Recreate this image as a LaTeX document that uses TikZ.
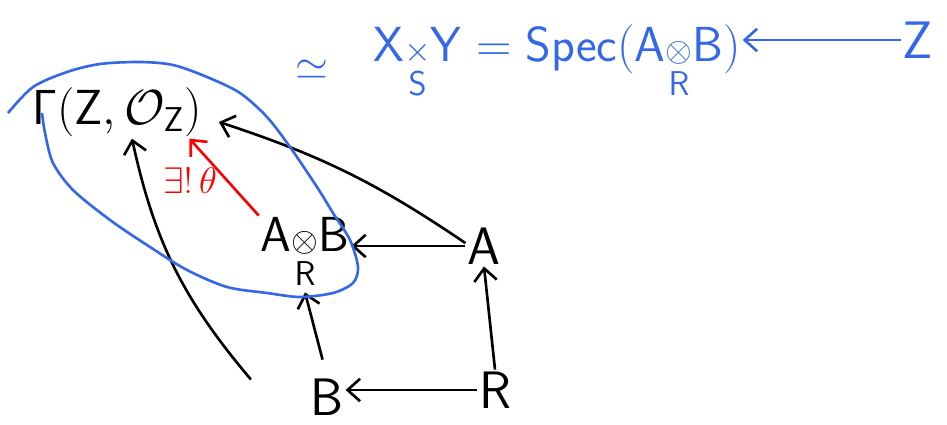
\RequirePackage{fix-cm}
\documentclass[tikz,border=0pt]{standalone}
\usepackage{amsmath}
\usetikzlibrary{arrows.meta, positioning}
\definecolor{penblue}{RGB}{52,104,232}

\begin{document}
\begin{tikzpicture}[
  x=0.02cm, y=-0.02cm,
  obj/.style={inner sep=1pt, font=\fontsize{30}{32}\selectfont},
  blueobj/.style={inner sep=1pt, text=penblue, font=\fontsize{27}{30}\selectfont},
  map/.style={-{Straight Barb[length=2.5mm, width=4.5mm]}, line width=1.5pt},
  lbl/.style={font=\fontsize{21}{24}\selectfont, text=red}
]
  \useasboundingbox (0,0) rectangle (947,425);

  % objects
  \node[obj, font=\fontsize{28}{30}\selectfont] (gamma) at (117,112)
        {$\mathsf{\Gamma}(\mathsf{Z},\mathcal{O}_{\mathsf{Z}})$};
  \node[obj, font=\fontsize{28}{30}\selectfont] (tensor) at (305,254)
        {$\mathsf{A}\underset{\mathsf{R}}{\scriptstyle\otimes}\mathsf{B}$};
  \node[obj] (A) at (484,246) {$\mathsf{A}$};
  \node[obj] (B) at (327,397) {$\mathsf{B}$};
  \node[obj] (R) at (495,390) {$\mathsf{R}$};

  % top line
  \node[blueobj, font=\fontsize{24}{26}\selectfont] (approx) at (312,70) {$\simeq$};
  \node[blueobj, font=\fontsize{28}{30}\selectfont] (spec) at (557,62)
        {$\mathsf{X}\underset{\mathsf{S}}{\scriptstyle\times}\mathsf{Y}=\mathsf{Spec}(\mathsf{A}\underset{\mathsf{R}}{\scriptstyle\otimes}\mathsf{B})$};
  \node[blueobj, font=\fontsize{30}{32}\selectfont] (Z) at (918,40) {$\mathsf{Z}$};

  % square
  \draw[map] (A.west) -- (tensor.east |- A.west);
  \draw[map] (R.north) -- (A.south);
  \draw[map, shorten <=10pt] (B.north) -- (tensor.south);
  \draw[map] (R.west) -- (B.east |- R.west);

  % maps into global sections
  \draw[map] ([yshift=-0.35cm]A.north west) to[bend right=8] ([xshift=0.3cm, yshift=-0.2cm]gamma.east);
  \draw[map] ([xshift=-1.15cm, yshift=0.35cm]B.west) to[bend left=14] ([xshift=0.3cm]gamma.south);
  \draw[map, red] (tensor.north west) -- node[lbl, left=2pt, pos=0.45]{$\exists!\,\theta$}
        ([xshift=1.45cm]gamma.south);

  \draw[map, penblue] (Z.west) -- (Z.west -| spec.east);

  % the affine piece
  \draw[penblue, line width=1.5pt] plot[smooth] coordinates {(8,113) (33,87) (67,72) (100,64)
        (140,62) (173,65) (207,77) (240,93) (267,117) (290,147) (317,187) (333,213)
        (350,240) (358,267) (353,283) (333,293) (300,297) (267,293) (227,287) (187,270)
        (150,247) (110,220) (73,190) (53,163) (45,133) (42,113)};
\end{tikzpicture}
\end{document}
